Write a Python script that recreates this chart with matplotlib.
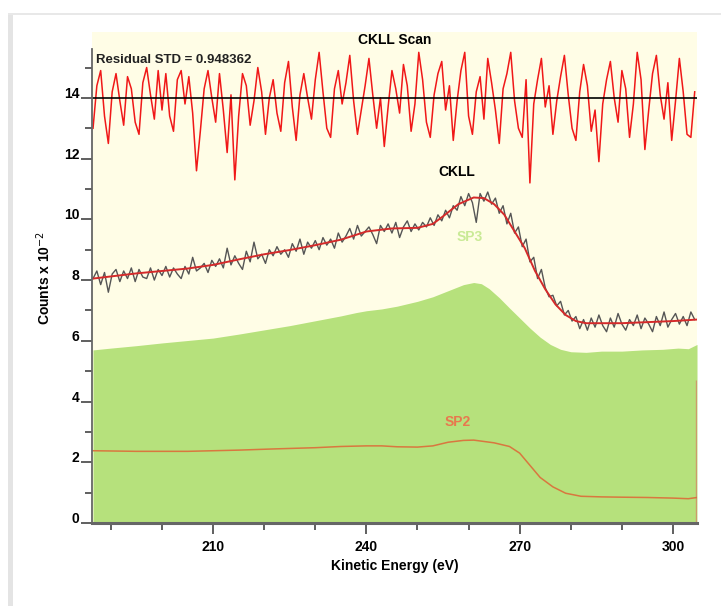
import numpy as np
import matplotlib.pyplot as plt
from matplotlib.patches import Rectangle

plt.rcParams['font.family'] = ['Liberation Sans', 'DejaVu Sans']

# Raw CKLL spectrum, sampled every 0.75 eV starting at 186.5 eV
e_start, e_step = 186.5, 0.75
counts = [8.05, 8.30, 7.85, 8.25, 7.60, 8.20, 8.35, 7.95, 8.30, 8.05, 8.40, 7.95,
          8.35, 8.10, 8.05, 8.40, 8.00, 8.35, 8.15, 8.45, 8.10, 8.40, 8.20, 8.05,
          8.45, 8.20, 8.75, 8.30, 8.40, 8.55, 8.25, 8.65, 8.45, 8.70, 8.40, 9.05,
          8.50, 8.80, 8.55, 8.35, 8.95, 8.60, 9.25, 8.70, 8.85, 8.55, 9.00, 8.80,
          9.10, 8.85, 9.00, 8.75, 9.20, 8.95, 9.35, 8.85, 9.25, 9.05, 9.30, 9.00,
          9.40, 9.15, 9.35, 9.05, 9.55, 9.25, 9.45, 9.70, 9.35, 9.80, 9.45, 9.60,
          9.75, 9.50, 9.20, 9.80, 9.60, 9.85, 9.55, 9.90, 9.40, 9.75, 9.95, 9.60,
          9.85, 9.65, 9.90, 9.75, 10.05, 9.80, 10.15, 9.95, 10.30, 10.05, 10.45, 10.30,
          10.75, 10.45, 10.85, 10.55, 9.90, 10.85, 10.60, 10.90, 10.50, 10.70, 10.20, 10.45,
          9.85, 10.20, 9.55, 9.75, 9.10, 9.35, 8.60, 8.75, 8.05, 8.35, 7.75, 7.45,
          7.50, 7.15, 7.30, 6.85, 7.00, 6.65, 6.80, 6.40, 6.70, 6.35, 6.75, 6.45,
          6.85, 6.50, 6.30, 6.75, 6.45, 6.90, 6.55, 6.35, 6.70, 6.50, 6.85, 6.40,
          6.75, 6.55, 6.30, 6.80, 6.50, 6.95, 6.45, 6.70, 6.90, 6.55, 6.80, 6.50,
          6.95, 6.70]

# Residual trace, offset to 14 on the same axis
residual = [13.0, 14.4, 14.9, 13.4, 12.5, 14.2, 14.8, 13.9, 13.1, 14.7, 14.3, 13.2,
            12.8, 14.5, 15.0, 14.1, 13.3, 14.9, 13.6, 14.8, 13.4, 12.9, 14.6, 14.9,
            13.8, 14.7, 13.5, 11.6, 12.9, 14.3, 14.9, 14.0, 13.2, 14.8, 13.6, 12.2,
            14.1, 11.3, 13.4, 14.8, 14.4, 13.1, 13.9, 15.0, 14.2, 12.8, 14.0, 14.6,
            13.5, 12.9, 14.5, 15.2, 13.7, 12.6, 14.1, 14.8, 14.0, 13.3, 14.6, 15.5,
            14.2, 13.0, 12.7, 14.3, 14.9, 13.8, 14.5, 15.4, 13.9, 12.8, 13.6, 14.4,
            15.3, 14.1, 13.0, 14.0, 12.4, 13.7, 14.9, 14.3, 13.5, 15.1, 14.4, 12.9,
            13.8, 15.5, 14.6, 13.2, 12.7, 14.1, 14.8, 15.2, 13.6, 14.4, 12.6, 13.9,
            14.9, 15.5, 13.4, 12.8, 14.2, 14.7, 13.3, 15.3, 14.5, 13.6, 12.5, 14.3,
            14.8, 15.5, 13.9, 13.0, 12.7, 14.6, 11.2, 13.8, 14.6, 15.3, 13.7, 14.4,
            12.8, 13.9, 14.7, 15.4, 14.1, 13.0, 12.6, 14.2, 15.1, 14.4, 12.9, 13.6,
            11.9, 13.8, 14.6, 15.2, 14.0, 13.2, 14.9, 14.3, 12.7, 13.8, 15.5, 14.6,
            12.3, 13.6, 14.8, 15.4, 14.1, 13.3, 14.5, 12.6, 13.9, 15.3, 14.2, 12.8,
            12.7, 14.2]
residual_zero = 14.0

# Fitted envelope
fit_e = [186.5, 190, 195, 200, 205, 210, 215, 220, 225, 230, 235, 240, 245, 250,
         253, 255, 258, 261, 263, 265, 267, 269, 271, 273, 275, 277, 279, 281, 283,
         290, 300, 304.7]
fit_y = [8.05, 8.12, 8.22, 8.30, 8.38, 8.50, 8.68, 8.85, 8.99, 9.15, 9.33, 9.60, 9.70, 9.72,
         9.85, 10.10, 10.50, 10.72, 10.70, 10.50, 10.15, 9.60, 9.05, 8.30, 7.70, 7.20, 6.85,
         6.65, 6.58, 6.58, 6.65, 6.70]

# SP3 component (filled) and SP2 component
sp3_e = [186.5, 190, 195, 200, 205, 210, 215, 220, 225, 230, 235, 238, 240, 243, 246,
         250, 253, 256, 259, 261, 262.5, 264, 266, 268, 270, 272, 274, 276, 278, 280,
         283, 286, 290, 294, 298, 301, 303, 304.7]
sp3_y = [5.70, 5.76, 5.84, 5.93, 6.01, 6.09, 6.22, 6.36, 6.50, 6.66, 6.82, 6.93, 6.99, 7.05, 7.14,
         7.30, 7.45, 7.65, 7.85, 7.92, 7.88, 7.72, 7.42, 7.08, 6.75, 6.42, 6.12, 5.88, 5.72, 5.64,
         5.62, 5.66, 5.66, 5.70, 5.72, 5.76, 5.74, 5.88]

sp2_e = [186.5, 195, 205, 215, 222, 230, 235, 240, 243, 246, 250, 253, 256, 259, 261,
         265, 268, 270, 272, 274, 276.5, 279, 282, 286, 290, 295, 300, 303, 304.7]
sp2_y = [2.38, 2.36, 2.36, 2.40, 2.44, 2.48, 2.52, 2.54, 2.54, 2.51, 2.50, 2.54, 2.66, 2.72, 2.73,
         2.64, 2.52, 2.30, 1.90, 1.50, 1.19, 0.98, 0.88, 0.86, 0.85, 0.84, 0.82, 0.80, 0.84]
edge_top = 4.7

energy = e_start + e_step * np.arange(len(counts))
xmin, xmax = 186.3, 304.7

fig = plt.figure(figsize=(7.21, 6.06), dpi=100)
fig.patches.append(Rectangle((8 / 721, 0), 5 / 721, 1 - 15 / 606, transform=fig.transFigure,
                             facecolor='#e4e4e4', edgecolor='none'))
fig.patches.append(Rectangle((8 / 721, 1 - 15 / 606), 1, 1.5 / 606, transform=fig.transFigure,
                             facecolor='#e8e8e8', edgecolor='none'))

ax = fig.add_axes([92 / 721, 1 - 523 / 606, (697 - 92) / 721, (523 - 32) / 606])
ax.set_facecolor('#fffde6')

ax.fill_between(sp3_e, 0, sp3_y, color='#b6e17c', lw=0)
ax.plot(sp2_e, sp2_y, color='#d9773f', lw=1.1)
ax.vlines(xmax - 0.1, 0, edge_top, color='#e06060', lw=1, alpha=0.55)

ax.plot(energy, counts, color='#555555', lw=1.0)
ax.plot(fit_e, fit_y, color='#d42a2a', lw=1.4)

ax.plot(energy, residual, color='#f01818', lw=1.1)
ax.axhline(residual_zero, color='black', lw=1.2)

ax.text(187.0, 15.25, 'Residual STD = 0.948362', fontsize=9.5, fontweight='bold',
        ha='left', va='center', color='#222222')
ax.text(245.6, 15.9, 'CKLL Scan', fontsize=10, fontweight='bold', ha='center', va='center')
ax.text(257.7, 11.56, 'CKLL', fontsize=10, fontweight='bold', ha='center', va='center')
ax.text(260.3, 9.42, 'SP3', fontsize=10, fontweight='bold', ha='center', va='center',
        color='#c9ea96')
ax.text(257.9, 3.33, 'SP2', fontsize=10, fontweight='bold', ha='center', va='center',
        color='#e8784e')

ax.set_xlim(xmin, xmax)
ax.set_ylim(0, 16.17)
ax.set_xticks([210, 240, 270, 300])
ax.set_xticks(np.arange(190, 305, 10), minor=True)
ax.set_yticks(np.arange(0, 15, 2))
ax.set_yticks(np.arange(1, 16, 2), minor=True)
ax.tick_params(axis='both', which='major', direction='out', length=8, width=1.2,
               color='#444444', labelsize=10)
ax.tick_params(axis='both', which='minor', direction='out', length=5, width=1.2,
               color='#444444')
ax.tick_params(axis='x', pad=4)
ax.tick_params(axis='y', pad=1)
for lbl in ax.get_xticklabels() + ax.get_yticklabels():
    lbl.set_fontweight('bold')
for lbl in ax.get_yticklabels():
    lbl.set_verticalalignment('baseline')

for side in ('top', 'right'):
    ax.spines[side].set_visible(False)
ax.spines['left'].set_color('#666666')
ax.spines['left'].set_linewidth(1.3)
ax.spines['left'].set_bounds(0, 15.6)
ax.spines['bottom'].set_color('#666666')
ax.spines['bottom'].set_linewidth(2.2)

ax.set_xlabel('Kinetic Energy (eV)', fontsize=10, fontweight='bold', labelpad=4)
ax.set_ylabel(r'Counts x 10$^{-2}$', fontsize=10, fontweight='bold', labelpad=8)

fig.savefig('out.png', dpi=100, facecolor='white')
